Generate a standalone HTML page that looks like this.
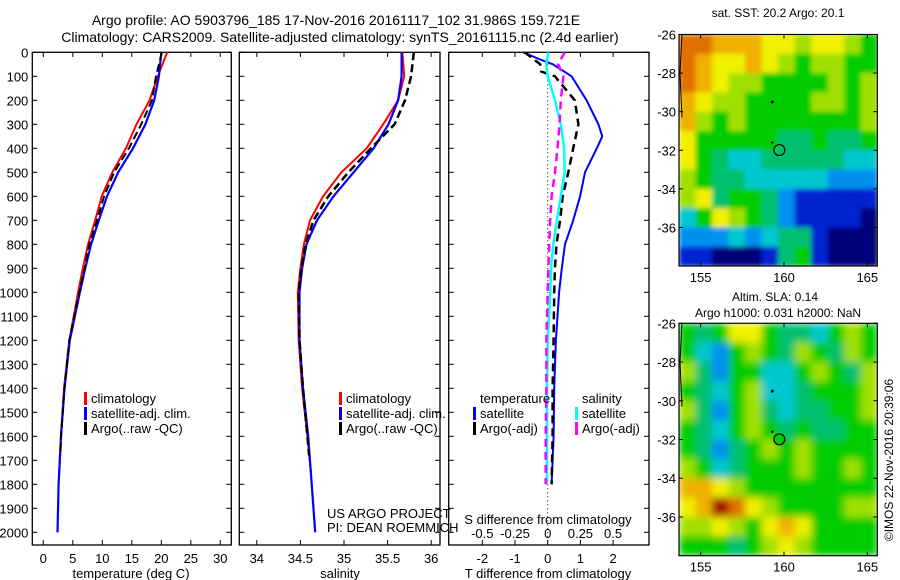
<!DOCTYPE html>
<html><head><meta charset="utf-8">
<style>
html,body{margin:0;padding:0;background:#fff;}
svg{display:block;font-family:"Liberation Sans",sans-serif;}
</style></head>
<body>
<svg id="fig" width="900" height="580" viewBox="0 0 900 580" xmlns="http://www.w3.org/2000/svg">
<defs>
<filter id="blurS" x="0" y="0" width="1" height="1"><feGaussianBlur stdDeviation="2.5" edgeMode="duplicate"/></filter>
<filter id="blurL" x="0" y="0" width="1" height="1"><feGaussianBlur stdDeviation="4" edgeMode="duplicate"/></filter>
<clipPath id="clipS"><rect x="679" y="34.5" width="198.3" height="231.5"/></clipPath>
<clipPath id="clipL"><rect x="679" y="323.3" width="198.3" height="232.4"/></clipPath>
</defs>
<text x="336" y="25" font-size="14" text-anchor="middle">Argo profile: AO 5903796_185 17-Nov-2016 20161117_102 31.986S 159.721E</text>
<text x="340" y="42" font-size="14" text-anchor="middle">Climatology: CARS2009. Satellite-adjusted climatology: synTS_20161115.nc (2.4d earlier)</text>
<g id="plots"></g>
</svg>
<script>
// ---------- profile data ----------
const depthT = [0,100,200,300,400,500,600,700,800,900,1000,1200,1400,1600,1750];
const tempClim = [21.0,19.4,18.0,15.8,14.0,11.7,9.9,8.8,7.6,6.7,5.9,4.4,3.5,3.0,2.7];
const depthTS = [0,100,200,300,400,500,600,700,800,900,1000,1200,1400,1600,1800,2000];
const tempSat = [20.0,19.6,18.8,17.3,15.2,12.7,10.8,9.4,8.1,7.1,6.2,4.5,3.6,3.0,2.6,2.4];
const depthA = [0,100,200,300,400,500,600,700,800,900,1000,1200,1400,1600,1680];
const tempArgo = [20.1,19.1,18.4,16.6,14.5,12.0,10.3,9.1,7.8,7.0,6.1,4.4,3.6,3.0,2.9];
const salClim = [35.67,35.69,35.62,35.45,35.26,34.97,34.76,34.61,34.54,34.50,34.47,34.48,34.52,34.58,34.62];
const salSat = [35.66,35.66,35.62,35.51,35.34,35.11,34.88,34.69,34.57,34.52,34.49,34.49,34.53,34.59,34.63,34.67];
const salArgo = [35.80,35.77,35.70,35.58,35.31,35.05,34.82,34.65,34.56,34.51,34.48,34.49,34.53,34.58,34.60];
// differences
const depthD = [0,30,50,100,200,300,350,400,500,600,700,800,900,1000,1200,1400,1600,1800];
const dTsat = [-0.75,-0.23,0.16,0.73,1.19,1.55,1.67,1.5,1.14,0.99,0.78,0.53,0.43,0.35,0.25,0.2,0.18,0.12];
const depthDA = [0,50,80,100,200,300,400,500,600,700,800,900,1000,1200,1400,1600,1800];
const dTargo = [-0.7,-0.23,-0.2,0.22,0.83,0.94,0.78,0.63,0.46,0.38,0.27,0.22,0.2,0.18,0.15,0.15,0.12];
const depthDS = [0,50,100,200,300,400,500,600,700,800,900,1000,1200,1400,1600,1800];
const dSsat = [0.005,-0.012,0,0.056,0.1,0.125,0.13,0.1,0.07,0.043,0.025,0.02,0,-0.005,-0.006,-0.006];
const dSargo = [0.13,0.08,0.12,0.1,0.09,0.075,0.056,0.03,0.018,0.012,0.005,0,-0.01,-0.01,-0.015,-0.015];
const depthTicks = [0,100,200,300,400,500,600,700,800,900,1000,1100,1200,1300,1400,1500,1600,1700,1800,1900,2000];
const tempTicks = [0,5,10,15,20,25,30];
const salTicks = [34,34.5,35,35.5,36];
const dtTicks = [-2,-1,0,1,2];
const dsTicks = [-0.5,-0.25,0,0.25,0.5];
// ---------- map data (levels 0..10) ----------
const sstGrid = [
[9,9,8,8,8,7,7,6,7,7,6,5],
[9,8,7,7,8,7,6,5,6,6,5,5],
[9,8,7,6,6,5,5,5,5,6,5,6],
[8,7,6,6,5,5,5,5,6,6,5,6],
[8,6,5,6,5,5,5,5,5,5,5,6],
[7,5,5,5,5,5,4,4,5,4,4,5],
[7,5,4,3,3,4,4,4,4,4,3,3],
[6,5,4,4,3,3,3,3,3,2,2,2],
[6,7,4,5,5,4,2,1,1,1,1,1],
[3,5,7,6,5,4,2,1,1,1,1,0],
[2,2,2,3,2,3,4,4,1,0,0,0],
[1,1,0,0,0,1,4,5,1,0,0,0]];
const slaGrid = [
[5,4,5,7,7,5,4,4,3,5,6,5],
[5,3,2,5,6,5,4,6,5,4,6,5],
[6,4,2,5,5,3,3,5,6,5,4,6],
[5,4,3,5,6,3,3,4,5,5,5,6],
[6,4,2,5,6,4,3,4,4,5,5,6],
[5,4,3,5,6,5,4,5,4,4,5,5],
[5,4,2,4,5,6,5,6,5,5,5,5],
[6,5,3,4,5,5,5,6,5,5,6,5],
[8,8,7,6,5,5,5,5,5,5,5,5],
[7,8,10,9,7,6,5,5,5,5,6,6],
[6,6,7,6,5,7,8,7,5,5,5,5],
[5,5,5,4,5,6,7,6,5,5,5,5]];
const latTicks = [-26,-28,-30,-32,-34,-36];
const lonTicks = [155,160,165];
const palette = ["#00007a","#0020d0","#0090f0","#00c8d0","#00c070","#00cc00","#a0e000","#f0f000","#f0b000","#e07000","#a00000"];

const NS="http://www.w3.org/2000/svg";
const root=document.getElementById('plots');
function mk(tag,attrs,parent,txt){const e=document.createElementNS(NS,tag);for(const k in attrs)e.setAttribute(k,attrs[k]);if(txt!==undefined)e.textContent=txt;(parent||root).appendChild(e);return e;}

const yD = d => 52.3 + d*0.24;
const xT = t => 43.3 + t*5.9;
const xS = s => 256.8 + (s-34)*87.2;
const xDT = v => 547.7 + v*32.7;
const xDS = v => 547.7 + v*4*32.7;

function panel(x0,x1,name){
  const g=mk('g',{});
  
  
  const r=mk('rect',{x:x0,y:52.3,width:x1-x0,height:545-52.3,fill:'none',stroke:'#000','stroke-width':1.3},g);
  
  
  return g;
}
function line(g,xs,ys,xf,color,w,dash,name){
  const pts=xs.map((v,i)=>xf(v).toFixed(1)+','+yD(ys[i]).toFixed(1)).join(' ');
  const p=mk('polyline',{points:pts,fill:'none',stroke:color,'stroke-width':w,'stroke-dasharray':dash||'none'},g);
  
  
}
function yTicks(g,x0,x1,labels){
  depthTicks.forEach(d=>{
    mk('line',{x1:x0,x2:x0+5,y1:yD(d),y2:yD(d),stroke:'#000'},g);
    mk('line',{x1:x1,x2:x1-5,y1:yD(d),y2:yD(d),stroke:'#000'},g);
    if(labels){const t=mk('text',{x:x0-4,y:yD(d)+5,'font-size':13,'text-anchor':'end'},g,String(d));
      
      }
  });
}
function xTicks(g,ticks,xf,labY){
  ticks.forEach(v=>{
    mk('line',{x1:xf(v),x2:xf(v),y1:545,y2:540,stroke:'#000'},g);
    mk('line',{x1:xf(v),x2:xf(v),y1:52.3,y2:57,stroke:'#000'},g);
    const t=mk('text',{x:xf(v),y:labY,'font-size':13,'text-anchor':'middle'},g,String(v));
    
    
  });
}
function legend(g,x,y,items){
  items.forEach((it,i)=>{
    const yy=y+i*15;
    if(it[0]) mk('rect',{x:x,y:yy-11,width:3,height:13,fill:it[0]},g);
    const t=mk('text',{x:x+7,y:yy,'font-size':13},g,it[1]);
    
    
  });
}

// Panel 1 temperature
const p1=panel(32.3,231.3,'temperature-panel');
yTicks(p1,32.3,231.3,true);
xTicks(p1,tempTicks,xT,563);
line(p1,tempClim,depthT,xT,'#f00',2,null,'temp-climatology-line');
line(p1,tempSat,depthTS,xT,'#00f',2.2,null,'temp-satellite-line');
line(p1,tempArgo,depthA,xT,'#000',2,'8,4','temp-argo-line');
legend(p1,84,403,[['#f00','climatology'],['#00f','satellite-adj. clim.'],['#000','Argo(..raw -QC)']]);
let t=mk('text',{x:131,y:578,'font-size':13,'text-anchor':'middle'},p1,'temperature (deg C)');


// Panel 2 salinity
const p2=panel(239.3,440,'salinity-panel');
yTicks(p2,239.3,440,false);
xTicks(p2,salTicks,xS,563);
line(p2,salClim,depthT,xS,'#f00',2,null,'sal-climatology-line');
line(p2,salSat,depthTS,xS,'#00f',2.2,null,'sal-satellite-line');
line(p2,salArgo,depthA,xS,'#000',2.5,'8,4','sal-argo-line');
legend(p2,339,403,[['#f00','climatology'],['#00f','satellite-adj. clim.'],['#000','Argo(..raw -QC)']]);
t=mk('text',{x:327,y:518,'font-size':13},p2,'US ARGO PROJECT');

t=mk('text',{x:327,y:532,'font-size':13},p2,'PI: DEAN ROEMMICH');

t=mk('text',{x:340,y:578,'font-size':13,'text-anchor':'middle'},p2,'salinity');


// Panel 3 differences
const p3=panel(448.7,649,'difference-panel');
yTicks(p3,448.7,649,false);
xTicks(p3,dtTicks,xDT,563);
mk('line',{x1:547.7,x2:547.7,y1:52.3,y2:545,stroke:'#000','stroke-dasharray':'1,3'},p3);
line(p3,dTsat,depthD,xDT,'#00f',2,null,'dT-satellite-line');
line(p3,dTargo,depthDA,xDT,'#000',2.5,'8,5','dT-argo-line');
line(p3,dSsat,depthDS,xDS,'#0ff',2.5,null,'dS-satellite-line');
line(p3,dSargo,depthDS,xDS,'#f0f',2.5,'8,5','dS-argo-line');
legend(p3,473,403,[[null,'temperature'],['#00f','satellite'],['#000','Argo(-adj)']]);
legend(p3,575,403,[[null,'salinity'],['#0ff','satellite'],['#f0f','Argo(-adj)']]);
dsTicks.forEach(v=>{const tt=mk('text',{x:xDS(v),y:538,'font-size':13,'text-anchor':'middle'},p3,String(v));
  });
t=mk('text',{x:548,y:524,'font-size':13,'text-anchor':'middle'},p3,'S difference from climatology');

t=mk('text',{x:548,y:578,'font-size':13,'text-anchor':'middle'},p3,'T difference from climatology');


// Maps
const lonMin=153.7, lonMax=165.6;
function map(grid,top,bottom,name,circleFill,filt,clip){
  const g=mk('g',{});
  
  
  const L=679,R=877.3;
  const xL=lon=>L+(lon-lonMin)/(lonMax-lonMin)*(R-L);
  const yL=lat=>top+(-26-lat)/12*(bottom-top);
  const rows=grid.length, cols=grid[0].length;
  const cw=(R-L)/cols, ch=(bottom-top)/rows;
  const cg=mk('g',{'clip-path':'url(#'+clip+')'},g);
  const fg=mk('g',{filter:'url(#'+filt+')'},cg);
  grid.forEach((row,i)=>row.forEach((v,j)=>{
    const c=mk('rect',{x:(L+j*cw).toFixed(2),y:(top+i*ch).toFixed(2),width:(cw+0.6).toFixed(2),height:(ch+0.6).toFixed(2),fill:palette[v]},fg);
    
    
  }));
  mk('path',{d:`M${L+3},${top} L${L+1},${yL(-28)} L${L+3},${yL(-30.3)}`,stroke:'#000',fill:'none'},g);
  mk('circle',{cx:xL(159.3),cy:yL(-29.5),r:1.5,fill:'#000'},g);
  mk('circle',{cx:xL(159.3),cy:yL(-31.6),r:1.2,fill:'#000'},g);
  const c=mk('circle',{cx:xL(159.72),cy:yL(-31.99),r:5.5,fill:circleFill,stroke:'#000','stroke-width':1.2},g);
  
  
  mk('rect',{x:L,y:top,width:R-L,height:bottom-top,fill:'none',stroke:'#000','stroke-width':1.2},g);
  latTicks.forEach(lat=>{
    mk('line',{x1:L,x2:L+4,y1:yL(lat),y2:yL(lat),stroke:'#000'},g);
    mk('line',{x1:R,x2:R-4,y1:yL(lat),y2:yL(lat),stroke:'#000'},g);
    const tt=mk('text',{x:L-3,y:yL(lat)+5,'font-size':13,'text-anchor':'end'},g,String(lat));
    
  });
  lonTicks.forEach(lon=>{
    mk('line',{x1:xL(lon),x2:xL(lon),y1:bottom,y2:bottom-4,stroke:'#000'},g);
    mk('line',{x1:xL(lon),x2:xL(lon),y1:top,y2:top+4,stroke:'#000'},g);
    const tt=mk('text',{x:xL(lon),y:bottom+16,'font-size':13,'text-anchor':'middle'},g,String(lon));
    
  });
}
map(sstGrid,34.5,266,'sst-map','none','blurS','clipS');
map(slaGrid,323.3,555.7,'sla-map','#00cc00','blurL','clipL');
t=mk('text',{x:778,y:17,'font-size':12,'text-anchor':'middle'},root,'sat. SST: 20.2 Argo: 20.1');

t=mk('text',{x:775,y:301,'font-size':12,'text-anchor':'middle'},root,'Altim. SLA: 0.14');

t=mk('text',{x:778,y:317,'font-size':12,'text-anchor':'middle'},root,'Argo h1000: 0.031 h2000: NaN');

t=mk('text',{x:0,y:0,'font-size':12,'text-anchor':'middle',transform:'translate(893,460) rotate(-90)'},root,'©IMOS 22-Nov-2016 20:39:06');

</script>
</body></html>
